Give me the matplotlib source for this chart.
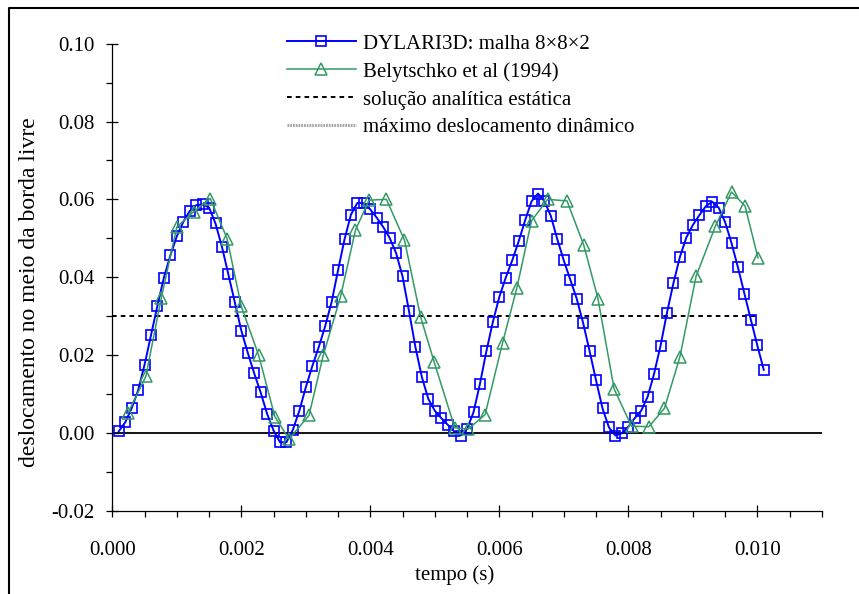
import numpy as np
import matplotlib
matplotlib.use("Agg")
import matplotlib.pyplot as plt
from matplotlib.lines import Line2D
from matplotlib.ticker import MultipleLocator, FuncFormatter

plt.rcParams['font.family'] = ['Liberation Serif', 'DejaVu Serif']
plt.rcParams['axes.unicode_minus'] = False

# DYLARI3D, malha 8x8x2: saida a cada 0.1 ms
dt = 1e-4
u_dylari = [
    0.0004, 0.0027, 0.0063, 0.0109, 0.0175, 0.0251, 0.0327, 0.0399, 0.0456, 0.0505,
    0.0542, 0.0570, 0.0585, 0.0587, 0.0579, 0.0538, 0.0478, 0.0407, 0.0335, 0.0263,
    0.0206, 0.0153, 0.0104, 0.0049, 0.0006, -0.0024, -0.0024, 0.0008, 0.0057, 0.0117,
    0.0171, 0.0220, 0.0274, 0.0336, 0.0418, 0.0497, 0.0561, 0.0591, 0.0590, 0.0574,
    0.0553, 0.0529, 0.0501, 0.0462, 0.0402, 0.0313, 0.0220, 0.0143, 0.0087, 0.0057,
    0.0038, 0.0021, 0.0004, -0.0007, 0.0010, 0.0053, 0.0126, 0.0210, 0.0285, 0.0349,
    0.0399, 0.0443, 0.0492, 0.0546, 0.0595, 0.0615, 0.0595, 0.0557, 0.0497, 0.0443,
    0.0394, 0.0345, 0.0282, 0.0210, 0.0135, 0.0063, 0.0014, -0.0007, -0.0001, 0.0016,
    0.0038, 0.0057, 0.0093, 0.0152, 0.0224, 0.0309, 0.0385, 0.0452, 0.0502, 0.0534,
    0.0559, 0.0582, 0.0594, 0.0579, 0.0542, 0.0488, 0.0425, 0.0358, 0.0291, 0.0225,
    0.0162,
]
t_dylari = dt * np.arange(1, len(u_dylari) + 1)

# Belytschko et al (1994), tempo em ms
t_bely_ms = [
    0.24, 0.52, 0.76, 1.00, 1.26, 1.52, 1.78, 2.00, 2.27, 2.52,
    2.74, 3.05, 3.27, 3.54, 3.77, 3.98, 4.25, 4.53, 4.78, 4.99,
    5.31, 5.52, 5.78, 6.05, 6.27, 6.50, 6.75, 7.05, 7.31, 7.53,
    7.78, 8.05, 8.32, 8.56, 8.80, 9.05, 9.35, 9.60, 9.81, 10.01,
]
u_bely = [
    0.0050, 0.0145, 0.0347, 0.0529, 0.0568, 0.0602, 0.0499, 0.0325, 0.0199, 0.0042,
    -0.0016, 0.0045, 0.0199, 0.0351, 0.0521, 0.0598, 0.0600, 0.0495, 0.0298, 0.0182,
    0.0013, 0.0010, 0.0047, 0.0231, 0.0371, 0.0545, 0.0600, 0.0596, 0.0482, 0.0345,
    0.0113, 0.0017, 0.0016, 0.0063, 0.0195, 0.0402, 0.0531, 0.0619, 0.0583, 0.0450,
]
t_bely = np.array(t_bely_ms) * 1e-3

u_static = 0.03
t_static = [0.0, 0.0100]

W, H = 859, 594
fig = plt.figure(figsize=(W / 100, H / 100), dpi=100)
ax = fig.add_axes([112.3 / W, 1 - 510.7 / H, (821.8 - 112.3) / W, (510.7 - 43.7) / H])

ax.axhline(0, color='black', lw=1.3, zorder=1)

ax.plot(t_dylari, u_dylari, color='#0000ff', lw=1.4, marker='s', ms=7.5,
        mfc='none', mec='#0000ff', mew=1.2, label='DYLARI3D: malha 8×8×2', zorder=3)
ax.plot(t_bely, u_bely, color='#339966', lw=1.1, marker='^', ms=8,
        mfc='none', mec='#339966', mew=1.1, label='Belytschko et al (1994)', zorder=4)
ax.plot(t_static, [u_static, u_static], color='black', lw=1.4,
        linestyle=(0, (2.4, 2.1)), label='solução analítica estática', zorder=2)
ax.plot([], [], color='#a8a8a8', lw=2.2, linestyle=(0, (0.6, 0.3)),
        label='máximo deslocamento dinâmico')

ax.set_xlim(0, 0.011)
ax.set_ylim(-0.02, 0.10)

for s in ['top', 'right']:
    ax.spines[s].set_visible(False)
for s in ['left', 'bottom']:
    ax.spines[s].set_linewidth(0.9)

ax.xaxis.set_major_locator(MultipleLocator(0.002))
ax.xaxis.set_minor_locator(MultipleLocator(0.0005))
ax.yaxis.set_major_locator(MultipleLocator(0.02))
ax.yaxis.set_minor_locator(MultipleLocator(0.01))
ax.xaxis.set_major_formatter(FuncFormatter(lambda v, p: '%.3f' % v))
ax.yaxis.set_major_formatter(FuncFormatter(lambda v, p: '%.2f' % (v + 0.0)))

ax.tick_params(which='major', direction='inout', length=9, width=0.9, labelsize=15)
ax.tick_params(which='minor', direction='out', length=4, width=0.9)
ax.tick_params(axis='x', which='major', pad=17)
ax.tick_params(axis='y', which='major', pad=8)

ax.set_xlabel('tempo (s)', fontsize=15)
ax.set_ylabel('deslocamento no meio da borda livre', fontsize=17)
ax.xaxis.set_label_coords((455 - 112.3) / (821.8 - 112.3), -(565 - 510.7) / (510.7 - 43.7))
ax.yaxis.set_label_coords(-(112.3 - 40) / (821.8 - 112.3), (510.7 - 292) / (510.7 - 43.7))

leg = ax.legend(loc='upper left', bbox_to_anchor=(287 / W, 1 - 34 / H),
                bbox_transform=fig.transFigure, frameon=False, fontsize=15,
                handlelength=3.3, handletextpad=0.35, labelspacing=0.4,
                borderpad=0, borderaxespad=0, numpoints=1)

# moldura da figura (bordas superior e esquerda)
fig.add_artist(Line2D([9 / W, 9 / W, 1], [0, 1 - 8 / H, 1 - 8 / H],
                      transform=fig.transFigure, color='black', lw=1.5))

fig.savefig('out.png', dpi=100)
